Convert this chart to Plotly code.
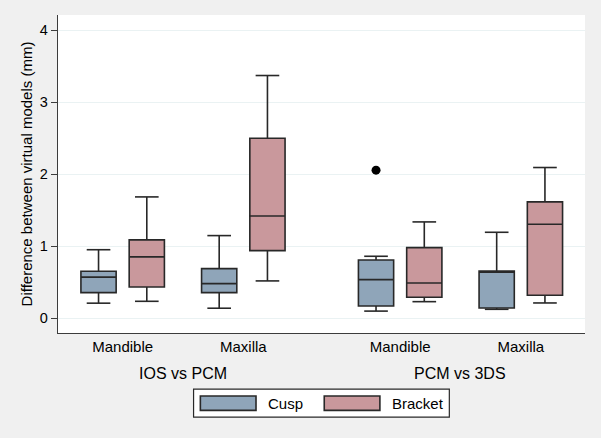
import plotly.graph_objects as go

# ---- data ----
groups = ["IOS vs PCM", "PCM vs 3DS"]
jaws = ["Mandible", "Maxilla"]
series = ["Cusp", "Bracket"]

# order: (IOS Mandible, IOS Maxilla, PCM Mandible, PCM Maxilla)
cusp_low = [0.21, 0.14, 0.10, 0.125]
cusp_q1 = [0.356, 0.356, 0.17, 0.144]
cusp_med = [0.572, 0.481, 0.537, 0.639]
cusp_q3 = [0.653, 0.69, 0.81, 0.657]
cusp_high = [0.952, 1.148, 0.861, 1.194]

brk_low = [0.236, 0.519, 0.231, 0.213]
brk_q1 = [0.435, 0.94, 0.292, 0.319]
brk_med = [0.852, 1.421, 0.491, 1.306]
brk_q3 = [1.088, 2.50, 0.981, 1.616]
brk_high = [1.685, 3.37, 1.338, 2.093]

# outliers: (series, cell index, value)
outlier_series = ["Cusp"]
outlier_cell = [2]
outlier_value = [2.056]

y_ticks = [0, 1, 2, 3, 4]

# ---- style ----
colors = {"Cusp": "rgb(143,165,185)", "Bracket": "rgb(201,152,156)"}
edge = "rgb(40,40,40)"
font_family = "Liberation Sans, Arial, sans-serif"
BOX_W = 0.73
CAP_W = 0.49
GROUP_GAP = 5.75
JAW_GAP = 2.5

def pos(cell, s_idx):
    g, j = divmod(cell, 2)
    return g * GROUP_GAP + j * JAW_GAP + s_idx * 1.0

stats = {
    "Cusp": (cusp_low, cusp_q1, cusp_med, cusp_q3, cusp_high),
    "Bracket": (brk_low, brk_q1, brk_med, brk_q3, brk_high),
}

fig = go.Figure()
for s_idx, s in enumerate(series):
    low, q1, med, q3, high = stats[s]
    xs = [pos(c, s_idx) for c in range(4)]
    fig.add_trace(go.Box(
        name=s, x=xs, q1=q1, median=med, q3=q3, lowerfence=low, upperfence=high,
        width=BOX_W, fillcolor=colors[s], line=dict(color=edge, width=1.6),
        whiskerwidth=0, boxpoints=False, showlegend=False, hoverinfo="skip",
    ))
    # whisker caps
    cx, cy = [], []
    for x, lo, hi in zip(xs, low, high):
        for v in (lo, hi):
            cx += [x - CAP_W / 2, x + CAP_W / 2, None]
            cy += [v, v, None]
    fig.add_trace(go.Scatter(x=cx, y=cy, mode="lines", line=dict(color=edge, width=1.6),
                             showlegend=False, hoverinfo="skip"))

ox = [pos(c, series.index(s)) for s, c in zip(outlier_series, outlier_cell)]
fig.add_trace(go.Scatter(x=ox, y=outlier_value, mode="markers",
                         marker=dict(color="black", size=9), showlegend=False, hoverinfo="skip"))

tick_x = [pos(c, 0) + 0.5 for c in range(4)]
tick_t = [jaws[c % 2] for c in range(4)]

annotations = []
for g, name in enumerate(groups):
    gx = (pos(2 * g, 0) + pos(2 * g + 1, 1)) / 2
    annotations.append(dict(x=gx, xref="x", y=0, yref="paper", yshift=-40,
                            text=name, showarrow=False, yanchor="middle",
                            font=dict(size=16, color="black", family=font_family)))

# custom legend (paper coordinates derived from pixels)
W, H = 601, 438
ML, MR, MT, MB = 57.5, 16, 15, 105.3
PW, PH = W - ML - MR, H - MT - MB

def px(x):
    return (x - ML) / PW

def py(y):
    return (H - MB - y) / PH

shapes = [dict(type="rect", xref="paper", yref="paper", x0=px(193.2), x1=px(449.2),
               y0=py(416.7), y1=py(388.7), fillcolor="white", line=dict(color=edge, width=1.2))]
leg_swatch_x = [200, 324]
leg_text_x = [265.6, 389.8]
for s, sx, tx in zip(series, leg_swatch_x, leg_text_x):
    shapes.append(dict(type="rect", xref="paper", yref="paper", x0=px(sx), x1=px(sx + 55.7),
                       y0=py(410), y1=py(395.7), fillcolor=colors[s], line=dict(color=edge, width=1.6)))
    annotations.append(dict(x=px(tx), xref="paper", y=py(403), yref="paper", text=s,
                            showarrow=False, xanchor="left", yanchor="middle",
                            font=dict(size=15, color="black", family=font_family)))

fig.update_layout(
    width=W, height=H,
    margin=dict(l=ML, r=MR, t=MT, b=MB, pad=0, autoexpand=False),
    paper_bgcolor="rgb(240,240,240)", plot_bgcolor="white",
    font=dict(family=font_family, color="black"),
    showlegend=False,
    shapes=shapes, annotations=annotations,
    xaxis=dict(range=[-0.84, 10.08], tickvals=tick_x, ticktext=tick_t, showgrid=False,
               zeroline=False, showline=True, linecolor="rgb(60,60,60)", linewidth=1.3,
               ticks="", tickfont=dict(size=15), fixedrange=True, automargin=False),
    yaxis=dict(range=[-0.204, 4.21], tickvals=y_ticks, showgrid=True,
               gridcolor="rgb(234,242,243)", gridwidth=1.2, zeroline=False,
               showline=True, linecolor="rgb(60,60,60)", linewidth=1.3,
               ticks="outside", ticklen=6, tickcolor="rgb(60,60,60)", tickwidth=1.3,
               tickfont=dict(size=14.5), automargin=False,
               title=dict(text="Difference between virtual models (mm)", font=dict(size=15), standoff=3)),
)

fig.write_html("out.html", config={"displayModeBar": False},
               post_script="document.body.style.margin='0px';document.body.style.padding='0px';")
